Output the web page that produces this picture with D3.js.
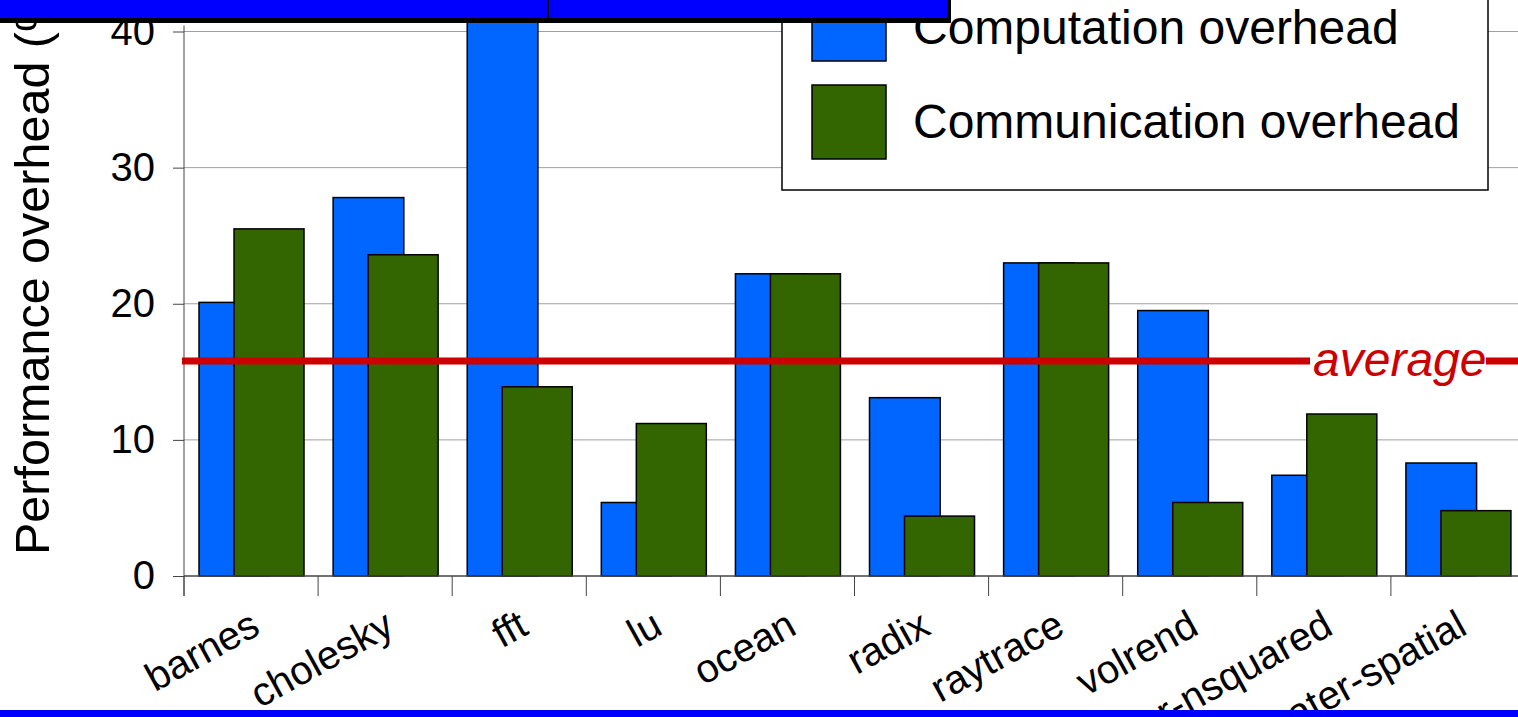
<!DOCTYPE html>
<html>
<head>
<meta charset="utf-8">
<script src="https://cdn.jsdelivr.net/npm/d3@7/dist/d3.min.js"></script>
<style>
  html, body { margin: 0; padding: 0; background: #fff; overflow: hidden; }
  svg { display: block; font-family: "Liberation Sans", Arial, sans-serif; }
</style>
</head>
<body>
<svg id="chart" width="1518" height="717"></svg>
<script>
// Benchmarks and their overheads (%)
const categories = ["barnes", "cholesky", "fft", "lu", "ocean", "radix", "raytrace", "volrend", "water-nsquared", "water-spatial"];
const computation = [20.1, 27.8, 48, 5.4, 22.2, 13.1, 23.0, 19.5, 7.4, 8.3];
const communication = [25.5, 23.6, 13.9, 11.2, 22.2, 4.4, 23.0, 5.4, 11.9, 4.8];
const averageOverhead = 15.8;
const yTicks = [0, 10, 20, 30, 40];
const seriesNames = ["Computation overhead", "Communication overhead"];
const seriesColors = ["#0066ff", "#336600"];

const svg = d3.select("#chart");

const x = d3.scaleBand().domain(categories).range([184, 1525]).paddingInner(0).paddingOuter(0);
const y = d3.scaleLinear().domain([0, 40]).range([576, 31.5]);
const bw = x.bandwidth();

// horizontal gridlines
svg.append("g")
  .selectAll("line")
  .data(yTicks.filter(d => d > 0))
  .join("line")
  .attr("x1", 184).attr("x2", 1525)
  .attr("y1", d => y(d)).attr("y2", d => y(d))
  .attr("stroke", "#a0a0a0").attr("stroke-width", 1);

// bars: computation behind, communication overlapping on the right
const bars = svg.append("g");
bars.selectAll("rect.comp")
  .data(categories)
  .join("rect")
  .attr("class", "comp")
  .attr("x", d => x(d) + bw * 0.112)
  .attr("width", bw * 0.527)
  .attr("y", (d, i) => y(computation[i]))
  .attr("height", (d, i) => y(0) - y(computation[i]))
  .attr("fill", seriesColors[0])
  .attr("stroke", "#000").attr("stroke-width", 1.5);
bars.selectAll("rect.comm")
  .data(categories)
  .join("rect")
  .attr("class", "comm")
  .attr("x", d => x(d) + bw * 0.373)
  .attr("width", bw * 0.522)
  .attr("y", (d, i) => y(communication[i]))
  .attr("height", (d, i) => y(0) - y(communication[i]))
  .attr("fill", seriesColors[1])
  .attr("stroke", "#000").attr("stroke-width", 1.5);

// y axis
const yAxis = svg.append("g")
  .attr("transform", "translate(184,0)")
  .call(d3.axisLeft(y).tickValues(yTicks).tickSize(11).tickPadding(18).tickFormat(d3.format("d")));
yAxis.select(".domain").attr("d", `M0,${y(40) - 6}V596`).attr("stroke", "#444");
yAxis.selectAll(".tick line").attr("stroke", "#444");
yAxis.selectAll(".tick text")
  .attr("font-size", 40).attr("fill", "#000")
  .attr("font-family", "Liberation Sans, Arial, sans-serif");

// x axis: ticks at category boundaries
const xg = svg.append("g");
xg.append("line")
  .attr("x1", 184).attr("x2", 1525).attr("y1", y(0)).attr("y2", y(0))
  .attr("stroke", "#444").attr("stroke-width", 1.5);
xg.selectAll("line.tick")
  .data(categories)
  .join("line")
  .attr("class", "tick")
  .attr("x1", d => x(d)).attr("x2", d => x(d))
  .attr("y1", y(0)).attr("y2", 596)
  .attr("stroke", "#444").attr("stroke-width", 1);
xg.selectAll("text")
  .data(categories)
  .join("text")
  .attr("transform", d => `translate(${x(d) + bw / 2 + 11},633) rotate(-29)`)
  .attr("text-anchor", "end")
  .attr("font-size", 40)
  .attr("fill", "#000")
  .text(d => d);

// y axis title
svg.append("text")
  .attr("transform", "translate(49,555) rotate(-90)")
  .attr("text-anchor", "start")
  .attr("font-size", 48.5)
  .attr("fill", "#000")
  .text("Performance overhead (%)");

// average line with label
const avgY = y(averageOverhead);
svg.append("line")
  .attr("x1", 182).attr("x2", 1525)
  .attr("y1", avgY).attr("y2", avgY)
  .attr("stroke", "#cc0000").attr("stroke-width", 7);
svg.append("rect")
  .attr("x", 1310).attr("y", avgY - 8).attr("width", 176).attr("height", 16)
  .attr("fill", "#fff");
svg.append("text")
  .attr("x", 1313).attr("y", avgY + 15)
  .attr("font-size", 48)
  .attr("font-style", "italic")
  .attr("fill", "#cc0000")
  .text("average");

// legend
const legend = svg.append("g");
legend.append("rect")
  .attr("x", 782).attr("y", -60).attr("width", 706).attr("height", 250)
  .attr("fill", "#fff").attr("stroke", "#000").attr("stroke-width", 1.5);
const entries = legend.selectAll("g.entry")
  .data(seriesNames)
  .join("g")
  .attr("class", "entry")
  .attr("transform", (d, i) => `translate(812,${24 + i * 98})`);
entries.append("rect")
  .attr("x", 0).attr("y", -37).attr("width", 74).attr("height", 74)
  .attr("fill", (d, i) => seriesColors[i])
  .attr("stroke", "#000").attr("stroke-width", 1.5);
entries.append("text")
  .attr("x", 101).attr("y", (d, i) => i === 0 ? 20 : 16)
  .attr("font-size", 48)
  .attr("fill", "#000")
  .text(d => d);

// header strip along the top
const header = svg.append("g");
header.append("rect").attr("x", 0).attr("y", 0).attr("width", 951).attr("height", 23).attr("fill", "#000");
header.append("rect").attr("x", 0).attr("y", 0).attr("width", 947).attr("height", 18).attr("fill", "#0000ff");
header.append("line").attr("x1", 548).attr("x2", 548).attr("y1", 0).attr("y2", 18)
  .attr("stroke", "#000").attr("stroke-width", 2);

// footer band
svg.append("rect").attr("x", 0).attr("y", 710).attr("width", 1518).attr("height", 7).attr("fill", "#0000ff");
</script>
</body>
</html>
